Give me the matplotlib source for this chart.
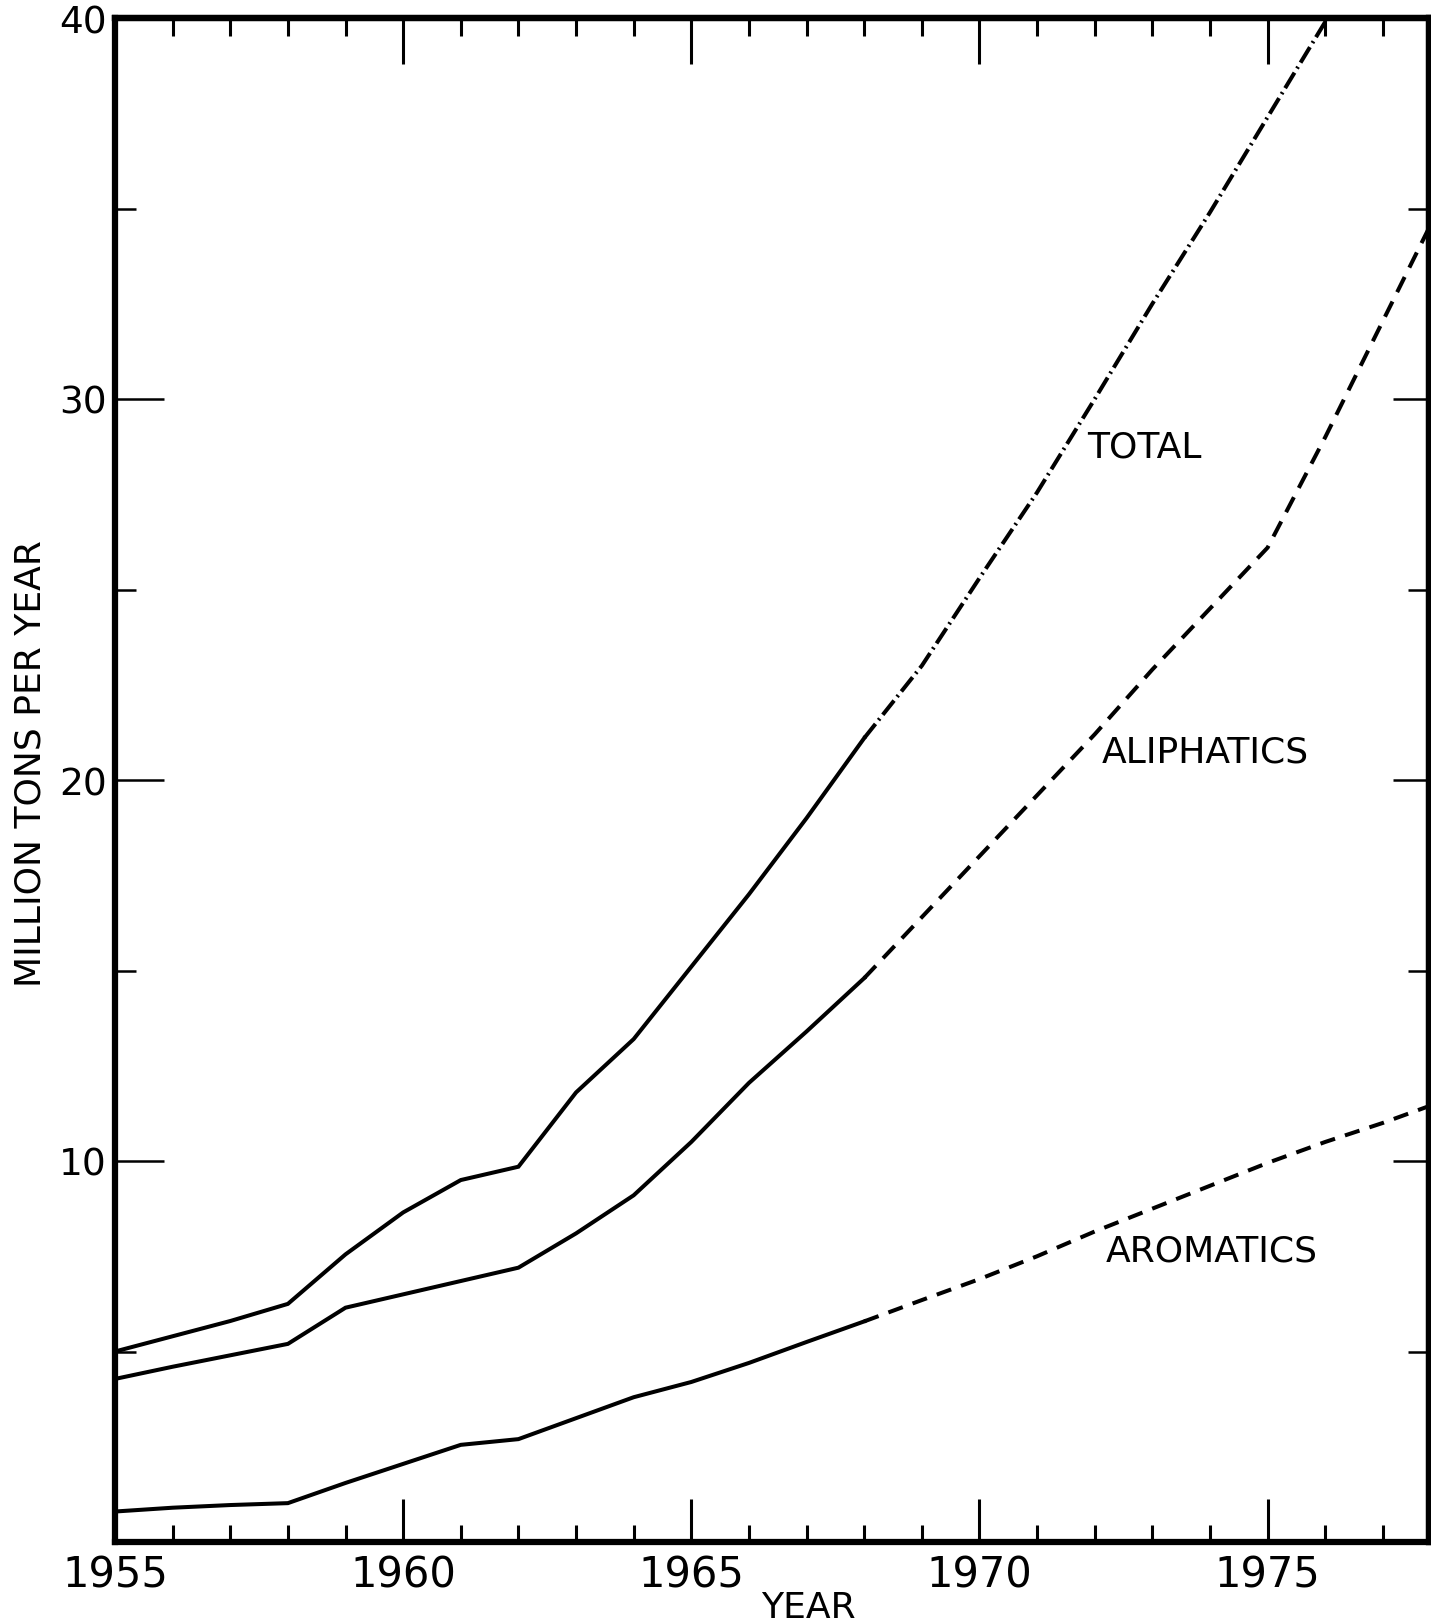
import matplotlib
matplotlib.use("Agg")
import matplotlib.pyplot as plt

# ---------------------------------------------------------------------------
# Data (million tons per year)
# ---------------------------------------------------------------------------
hist_years = [1955, 1956, 1957, 1958, 1959, 1960, 1961, 1962, 1963,
              1964, 1965, 1966, 1967, 1968]
total_hist = [5.0, 5.4, 5.8, 6.25, 7.55, 8.65, 9.5, 9.85, 11.8,
              13.2, 15.1, 17.0, 19.0, 21.1]
aliph_hist = [4.28, 4.6, 4.9, 5.2, 6.15, 6.5, 6.85, 7.2, 8.1,
              9.1, 10.5, 12.05, 13.4, 14.8]
arom_hist = [0.8, 0.9, 0.97, 1.02, 1.55, 2.05, 2.55, 2.7, 3.25,
             3.8, 4.2, 4.7, 5.25, 5.79]

total_proj_years = [1968, 1969, 1970, 1971, 1972, 1973, 1974, 1975, 1976]
total_proj = [21.1, 23.0, 25.3, 27.55, 30.0, 32.5, 34.9, 37.4, 39.9]

proj_years = [1968, 1969, 1970, 1971, 1972, 1973, 1974, 1975, 1976, 1977, 1978]
aliph_proj = [14.8, 16.4, 18.0, 19.6, 21.2, 22.9, 24.5, 26.1, 29.0, 32.05, 35.1]
arom_proj = [5.79, 6.35, 6.9, 7.5, 8.15, 8.75, 9.35, 9.95, 10.5, 11.0, 11.55]

labels = ["TOTAL", "ALIPHATICS", "AROMATICS"]
label_x = [1971.86, 1972.12, 1972.19]
label_y = [28.76, 20.74, 7.66]

x_major = [1955, 1960, 1965, 1970, 1975]
x_minor = [y for y in range(1955, 1978) if y not in x_major]
y_major = [10, 20, 30, 40]
y_minor = [5, 15, 25, 35]

# ---------------------------------------------------------------------------
# Draw
# ---------------------------------------------------------------------------
plt.rcParams["font.family"] = "DejaVu Sans"
fig = plt.figure(figsize=(14.31, 16.24), dpi=100)
fig.patch.set_facecolor("white")
ax = fig.add_axes([115 / 1431, 1 - 1543 / 1624, 1314 / 1431, 1524 / 1624])

LW = 2.9
ax.plot(hist_years, total_hist, color="black", lw=LW, solid_joinstyle="miter")
ax.plot(hist_years, aliph_hist, color="black", lw=LW, solid_joinstyle="miter")
ax.plot(hist_years, arom_hist, color="black", lw=LW, solid_joinstyle="miter")
ax.plot(total_proj_years, total_proj, color="black", lw=LW,
        dashes=(4.5, 1.2, 0.5, 1.2))
ax.plot(proj_years, aliph_proj, color="black", lw=LW, dashes=(4.2, 2.6))
ax.plot(proj_years, arom_proj, color="black", lw=LW, dashes=(3.8, 2.6))

for txt, lx, ly in zip(labels, label_x, label_y):
    ax.text(lx, ly, txt, fontsize=26, ha="left", va="center")

ax.set_xlim(1955, 1977.8)
ax.set_ylim(0, 40)

ax.set_xticks(x_major)
ax.set_xticklabels([str(v) for v in x_major], fontsize=30)
ax.set_xticks(x_minor, minor=True)
ax.set_yticks(y_major)
ax.set_yticklabels([str(v) for v in y_major], fontsize=27)
ax.set_yticks(y_minor, minor=True)

ax.tick_params(axis="x", which="major", direction="in", length=31, width=2.2,
               pad=8, top=False)
ax.tick_params(axis="x", which="minor", direction="in", length=12, width=2.2,
               top=False)
ax.tick_params(axis="y", which="major", direction="in", length=35, width=1.8,
               pad=6, right=False)
ax.tick_params(axis="y", which="minor", direction="in", length=15, width=1.8,
               right=False)

for sp in ax.spines.values():
    sp.set_linewidth(4.5)

# top and right ticks have their own lengths
top = ax.secondary_xaxis("top")
top.set_xticks([1960, 1965, 1970, 1975])
top.set_xticks(list(range(1956, 1978)), minor=True)
top.tick_params(which="major", direction="in", length=33, width=2.2,
                labeltop=False)
top.tick_params(which="minor", direction="in", length=13, width=2.2)
top.spines["top"].set_linewidth(4.5)

right = ax.secondary_yaxis("right")
right.set_yticks([10, 20, 30])
right.set_yticks(y_minor, minor=True)
right.tick_params(which="major", direction="in", length=26, width=1.8,
                  labelright=False)
right.tick_params(which="minor", direction="in", length=15, width=1.8)
right.spines["right"].set_linewidth(4.5)

fig.text(31 / 1431, 1 - 764 / 1624, "MILLION TONS PER YEAR", fontsize=26,
         rotation=90, ha="center", va="center")
fig.text(808 / 1431, 1 - 1608 / 1624, "YEAR", fontsize=26,
         ha="center", va="center")

fig.savefig("out.png", dpi=100, facecolor="white")
